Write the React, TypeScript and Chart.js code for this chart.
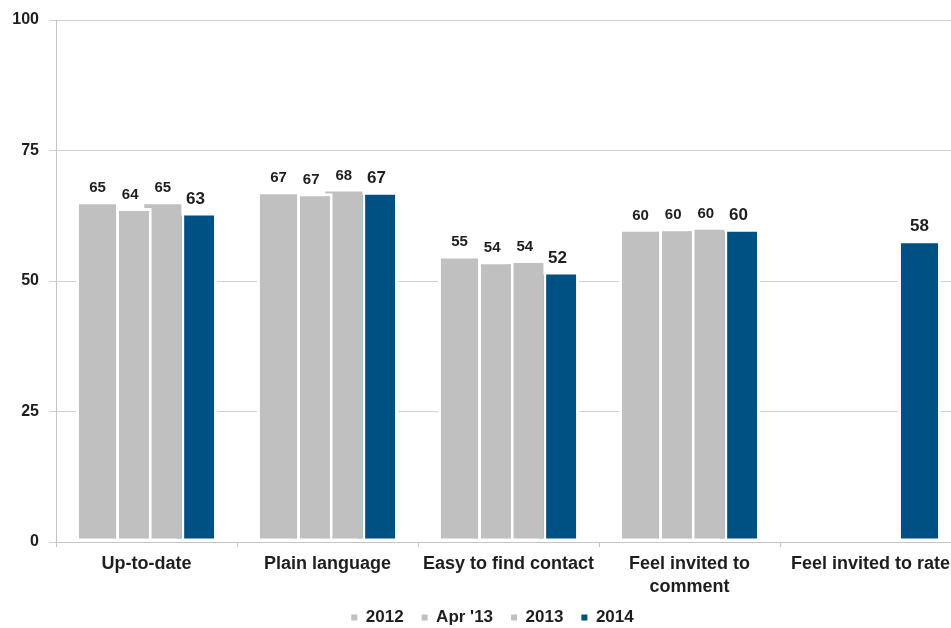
import React, { useEffect, useRef } from 'react';
import { Chart, registerables } from 'chart.js';

Chart.register(...registerables);

const categories: (string | string[])[] = [
  'Up-to-date',
  'Plain language',
  'Easy to find contact',
  ['Feel invited to', 'comment'],
  'Feel invited to rate',
];
const seriesNames = ['2012', "Apr '13", '2013', '2014'];
const values2012 = [65.3, 67.2, 54.9, 60.0, null];
const valuesApr13 = [64.0, 66.8, 53.8, 60.1, null];
const values2013 = [65.3, 67.7, 54.0, 60.4, null];
const values2014 = [63.1, 67.1, 51.8, 60.0, 57.8];
const yMin = 0;
const yMax = 100;
const yStep = 25;

const GREY = '#c0c0c0';
const BLUE = '#005183';
const FONT = '"Liberation Sans", Arial, sans-serif';
const TEXT = '#1e1e1e';

const valueLabels = {
  id: 'valueLabels',
  afterDatasetsDraw(chart: any) {
    const ctx = chart.ctx;
    chart.data.datasets.forEach((ds: any, di: number) => {
      const meta = chart.getDatasetMeta(di);
      meta.data.forEach((el: any, i: number) => {
        const v = ds.data[i];
        if (v == null) return;
        ctx.save();
        ctx.font = di === 3 ? `bold 17px ${FONT}` : `bold 15px ${FONT}`;
        ctx.fillStyle = TEXT;
        ctx.textAlign = 'center';
        ctx.textBaseline = 'alphabetic';
        ctx.fillText(String(Math.round(v)), el.x, el.y - 9);
        ctx.restore();
      });
    });
  },
};

// let the two-line category labels extend below the x-axis box (towards the legend)
const extendXLabelArea = {
  id: 'extendXLabelArea',
  afterLayout(chart: any) {
    const x = chart.scales.x;
    if (x) {
      x.bottom += 14;
      x.height += 14;
    }
  },
};

export default function App() {
  const ref = useRef<HTMLCanvasElement | null>(null);

  useEffect(() => {
    if (!ref.current) return;
    const colors = [GREY, GREY, GREY, BLUE];
    const series = [values2012, valuesApr13, values2013, values2014];
    const chart = new Chart(ref.current, {
      type: 'bar',
      data: {
        labels: categories,
        datasets: series.map((d, i) => ({
          label: seriesNames[i],
          data: d,
          backgroundColor: colors[i],
          borderColor: '#ffffff',
          borderWidth: 3,
          borderSkipped: false,
          categoryPercentage: 0.722,
          barPercentage: 1.32,
          yAxisID: 'y',
        })),
      },
      options: {
        responsive: false,
        animation: false,
        devicePixelRatio: 1,
        layout: { padding: { top: 20, left: 0, right: 0, bottom: 0 } },
        plugins: {
          tooltip: { enabled: false },
          legend: {
            position: 'bottom',
            labels: {
              boxWidth: 6,
              boxHeight: 6,
              padding: 18,
              color: TEXT,
              font: { family: FONT, size: 17, weight: 'bold' },
              generateLabels: (c: any) => {
                const items = Chart.defaults.plugins.legend.labels.generateLabels(c);
                return items.map((it: any) => ({ ...it, lineWidth: 0, strokeStyle: it.fillStyle }));
              },
            },
          },
        },
        scales: {
          x: {
            grid: {
              display: true,
              drawOnChartArea: false,
              drawTicks: true,
              tickLength: 5,
              color: '#c4c4c4',
              offset: true,
            },
            border: { display: true, color: '#c4c4c4', z: 1 },
            ticks: {
              color: TEXT,
              font: { family: FONT, size: 18, weight: 'bold', lineHeight: 1.3 },
              padding: 5,
              maxRotation: 0,
              autoSkip: false,
            },
            afterFit: (s: any) => {
              s.height = 49;
            },
          },
          y: {
            min: yMin,
            max: yMax,
            ticks: {
              stepSize: yStep,
              color: TEXT,
              font: { family: FONT, size: 16, weight: 'bold' },
              padding: 10,
            },
            grid: { color: '#d2d2d2', tickLength: 7 },
            border: { display: true, color: '#c4c4c4' },
            afterFit: (s: any) => {
              s.width = 56;
            },
          },
          y2: {
            position: 'right',
            display: true,
            min: yMin,
            max: yMax,
            grid: { display: false, drawTicks: false },
            border: { display: false },
            ticks: { display: false },
            afterFit: (s: any) => {
              s.width = 24;
            },
          },
        },
      },
      plugins: [valueLabels, extendXLabelArea],
    } as any);
    return () => chart.destroy();
  }, []);

  return (
    <div
      style={{
        position: 'fixed',
        left: 0,
        top: 0,
        width: 951,
        height: 628,
        overflow: 'hidden',
        background: '#ffffff',
      }}
    >
      <canvas ref={ref} width={985} height={636} style={{ display: 'block' }} />
    </div>
  );
}
